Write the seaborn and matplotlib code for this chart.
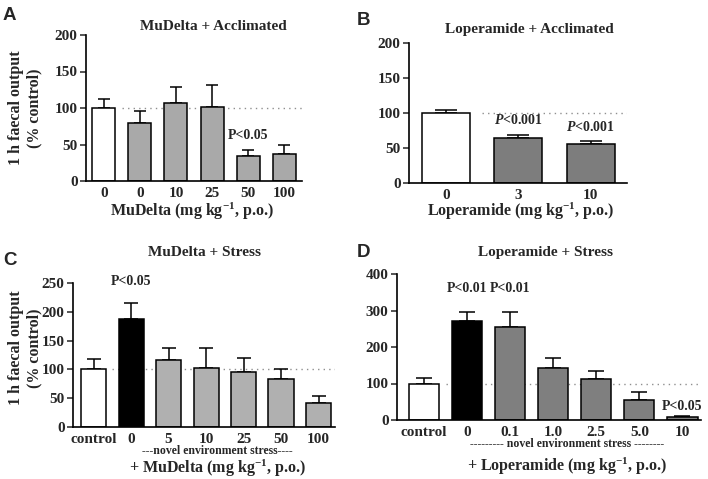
import numpy as np
import pandas as pd
import matplotlib
matplotlib.use("Agg")
import matplotlib.pyplot as plt
import seaborn as sns

# ---------------- data ----------------
a_groups = ["Vehicle", "MuDelta 0", "MuDelta 10", "MuDelta 25", "MuDelta 50", "MuDelta 100"]
a_ticklabels = ["0", "0", "10", "25", "50", "100"]
a_means = [100, 80, 107, 102, 34, 37]
a_sem = [13, 16, 22, 29, 8, 13]

b_groups = ["Loperamide 0", "Loperamide 3", "Loperamide 10"]
b_ticklabels = ["0", "3", "10"]
b_means = [100, 64, 56]
b_sem = [4, 5, 4]

c_groups = ["control", "Stress 0", "Stress 5", "Stress 10", "Stress 25", "Stress 50", "Stress 100"]
c_ticklabels = ["control", "0", "5", "10", "25", "50", "100"]
c_means = [100, 187, 116, 102, 96, 84, 41]
c_sem = [18, 29, 22, 36, 24, 16, 12]

d_groups = ["control", "Stress 0", "Stress 0.1", "Stress 1.0", "Stress 2.5", "Stress 5.0", "Stress 10"]
d_ticklabels = ["control", "0", "0.1", "1.0", "2.5", "5.0", "10"]
d_means = [100, 270, 256, 143, 112, 55, 7]
d_sem = [15, 27, 41, 27, 22, 22, 3]

# ---------------- style ----------------
sns.set_style("ticks")
plt.rcParams["font.family"] = ["Liberation Serif", "DejaVu Serif"]
plt.rcParams["font.weight"] = "bold"
plt.rcParams["mathtext.fontset"] = "custom"
plt.rcParams["mathtext.rm"] = "Liberation Serif:bold"
plt.rcParams["mathtext.bf"] = "Liberation Serif:bold"
plt.rcParams["mathtext.it"] = "Liberation Serif:italic:bold"
plt.rcParams["mathtext.default"] = "rm"

W, H = 708, 479
fig = plt.figure(figsize=(W / 100, H / 100), dpi=100)
fig.patch.set_facecolor("white")

TICK_FS = 11
TITLE_FS = 11
LABEL_FS = 11.5
ANN_FS = 10


def px_axes(x0, x1, ytop, ybot):
    return fig.add_axes([x0 / W, 1 - ybot / H, (x1 - x0) / W, (ybot - ytop) / H])


def panel(ax, groups, ticklabels, means, sem, colors, width, xlim, ylim, yticks, cap):
    df = pd.DataFrame({"group": groups, "value": means})
    pal = dict(zip(groups, colors))
    # reference line at 100 %
    ax.plot([0.5, xlim[1]], [100, 100], color="#8f8f8f", lw=1.0,
            ls=(0, (1, 3)), zorder=0.5)
    sns.barplot(data=df, x="group", y="value", hue="group", palette=pal,
                order=groups, hue_order=groups, legend=False, width=width,
                edgecolor="black", linewidth=1.1, ax=ax, zorder=2, errorbar=None)
    n = len(groups)
    ax.errorbar(np.arange(n), means, yerr=[np.zeros(n), sem], fmt="none",
                ecolor="black", elinewidth=1.1, capsize=cap, capthick=1.1, zorder=1.5)
    ax.set_xlim(*xlim)
    ax.set_ylim(*ylim)
    ax.set_yticks(yticks)
    ax.set_xticks(np.arange(n))
    ax.set_xticklabels(ticklabels, fontsize=TICK_FS, fontweight="bold")
    ax.set_yticklabels([str(t) for t in yticks], fontsize=TICK_FS, fontweight="bold")
    ax.tick_params(axis="x", length=0, pad=4)
    ax.tick_params(axis="y", length=4, width=1.1, direction="out", pad=2)
    for s in ["top", "right"]:
        ax.spines[s].set_visible(False)
    for s in ["left", "bottom"]:
        ax.spines[s].set_linewidth(1.2)
        ax.spines[s].set_color("black")
    ax.set_xlabel("")
    ax.set_ylabel("")
    ax.set_facecolor("white")


ylab = "1 h faecal output\n(% control)"
kg = r"(mg kg$^{-1}$, p.o.)"

# ---- Panel A ----
axA = px_axes(86, 302, 35, 181)
panel(axA, a_groups, a_ticklabels, a_means, a_sem,
      ["white"] + ["#a9a9a9"] * 5, 0.64, (-0.49, 5.49), (0, 200),
      [0, 50, 100, 150, 200], 4)
axA.text(0.59, 1.055, "MuDelta + Acclimated", transform=axA.transAxes,
         ha="center", va="center", fontsize=TITLE_FS, fontweight="bold")
axA.text(0.49, -0.205, "MuDelta " + kg, transform=axA.transAxes,
         ha="center", va="center", fontsize=LABEL_FS, fontweight="bold")
axA.set_ylabel(ylab, fontsize=LABEL_FS, fontweight="bold", linespacing=1.2)
axA.yaxis.set_label_coords(-0.2, 0.5)
axA.text(4, 63, "P<0.05", ha="center", va="center", fontsize=ANN_FS, fontweight="bold")

# ---- Panel B ----
axB = px_axes(409, 627, 43, 183)
panel(axB, b_groups, b_ticklabels, b_means, b_sem,
      ["white"] + ["#7d7d7d"] * 2, 0.66, (-0.51, 2.5), (0, 200),
      [0, 50, 100, 150, 200], 8)
axB.text(0.55, 1.1, "Loperamide + Acclimated", transform=axB.transAxes,
         ha="center", va="center", fontsize=TITLE_FS, fontweight="bold")
axB.text(0.51, -0.2, "Loperamide " + kg, transform=axB.transAxes,
         ha="center", va="center", fontsize=LABEL_FS, fontweight="bold")
axB.text(1, 90, r"$\mathit{P}$<0.001", ha="center", va="center", fontsize=ANN_FS)
axB.text(2, 80, r"$\mathit{P}$<0.001", ha="center", va="center", fontsize=ANN_FS)

# ---- Panel C ----
axC = px_axes(73, 335, 283, 427)
panel(axC, c_groups, c_ticklabels, c_means, c_sem,
      ["white", "black"] + ["#b0b0b0"] * 5, 0.67, (-0.55, 6.44), (0, 250),
      [0, 50, 100, 150, 200, 250], 5)
axC.text(0.5, 1.21, "MuDelta + Stress", transform=axC.transAxes,
         ha="center", va="center", fontsize=TITLE_FS, fontweight="bold")
axC.text(0.55, -0.167, "---novel environment stress----", transform=axC.transAxes,
         ha="center", va="center", fontsize=8.5, fontweight="bold")
axC.text(0.553, -0.285, "+ MuDelta " + kg, transform=axC.transAxes,
         ha="center", va="center", fontsize=LABEL_FS, fontweight="bold")
axC.set_ylabel(ylab, fontsize=LABEL_FS, fontweight="bold", linespacing=1.2)
axC.yaxis.set_label_coords(-0.118, 0.55)
axC.text(1, 252, "P<0.05", ha="center", va="center", fontsize=ANN_FS, fontweight="bold",
         clip_on=False)

# ---- Panel D ----
axD = px_axes(397, 701, 274, 420)
panel(axD, d_groups, d_ticklabels, d_means, d_sem,
      ["white", "black"] + ["#7f7f7f"] * 5, 0.70, (-0.63, 6.43), (0, 400),
      [0, 100, 200, 300, 400], 6)
axD.text(0.49, 1.144, "Loperamide + Stress", transform=axD.transAxes,
         ha="center", va="center", fontsize=TITLE_FS, fontweight="bold")
axD.text(0.56, -0.164, "--------- novel environment stress --------", transform=axD.transAxes,
         ha="center", va="center", fontsize=8.5, fontweight="bold")
axD.text(0.56, -0.32, "+ Loperamide " + kg, transform=axD.transAxes,
         ha="center", va="center", fontsize=LABEL_FS, fontweight="bold")
axD.text(1, 359, "P<0.01", ha="center", va="center", fontsize=ANN_FS, fontweight="bold")
axD.text(2, 359, "P<0.01", ha="center", va="center", fontsize=ANN_FS, fontweight="bold")
axD.text(6, 38, "P<0.05", ha="center", va="center", fontsize=ANN_FS, fontweight="bold")

# ---- Panel letters ----
for lab, (x, y) in {"A": (3, 7), "B": (357, 12), "C": (3, 252), "D": (357, 244)}.items():
    fig.text(x / W, 1 - y / H, lab, ha="left", va="top", fontsize=13.5,
             fontweight="bold", family=["Liberation Sans", "DejaVu Sans"])

fig.savefig("out.png", dpi=100, facecolor="white")
